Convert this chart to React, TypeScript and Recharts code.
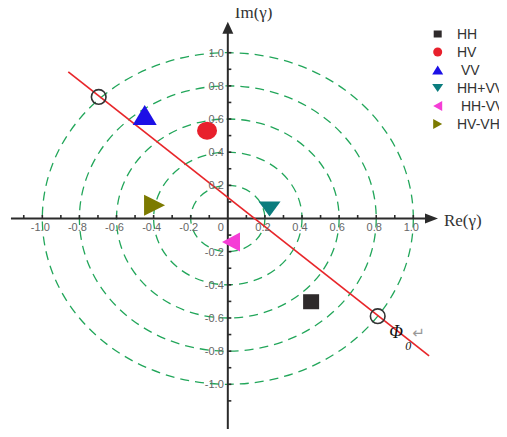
import React from 'react';
import {
  ScatterChart,
  Scatter,
  XAxis,
  YAxis,
  ReferenceLine,
  ReferenceArea,
  ReferenceDot,
  Legend,
} from 'recharts';

// ---------- data ----------
const seriesNames = ['HH', 'HV', 'VV', 'HH+VV', 'HH-VV', 'HV-VH'];
const legendLabels = ['HH', 'HV', ' VV', 'HH+VV', ' HH-VV', 'HV-VH'];
const reValues = [0.449, -0.112, -0.448, 0.225, 0.017, -0.395];
const imValues = [-0.502, 0.53, 0.624, 0.057, -0.142, 0.08];

const circleRadii = [0.2, 0.4, 0.6, 0.8, 1.0];

const crossRe = [-0.696, 0.808];
const crossIm = [0.733, -0.589];

const lineRe = [-0.86, 1.085];
const lineIm = [0.884, -0.829];

const xMinorTicks = [-1.1, -1.0, -0.9, -0.8, -0.7, -0.6, -0.5, -0.4, -0.3, -0.2, -0.1, 0.1, 0.2, 0.3, 0.4, 0.5, 0.6, 0.7, 0.8, 0.9, 1.0];
const xMajorTicks = [-1.0, -0.8, -0.6, -0.4, -0.2, 0, 0.2, 0.4, 0.6, 0.8, 1.0];
const xTickLabels = ['-1.0', '-0.8', '-0.6', '-0.4', '-0.2', '0', '0.2', '0.4', '0.6', '0.8', '1.0'];

const yMinorTicks = [-1.1, -1.0, -0.9, -0.8, -0.7, -0.6, -0.5, -0.4, -0.3, -0.2, -0.1, 0.1, 0.2, 0.3, 0.4, 0.5, 0.6, 0.7, 0.8, 0.9, 1.0];
const yMajorTicks = [1.0, 0.8, 0.6, 0.4, 0.2, -0.2, -0.4, -0.6, -0.8, -1.0];
const yTickLabels = ['1.0', '0.8', '0.6', '0.4', '0.2', '-0.2', '-0.4', '-0.6', '-0.8', '-1.0'];

const axisExtentRe = [-1.169, 1.133];
const axisExtentIm = [-1.306, 1.187];

const phiRe = [0.907];
const phiIm = [-0.686];

// ---------- styles ----------
const seriesColors = ['#2e2a2b', '#e8202c', '#1c10e6', '#0b7d7e', '#f53dd6', '#7c7a00'];
const markerKinds = ['square', 'circle', 'up', 'down', 'left', 'right'];
const markerSizes: [number, number][] = [
  [16, 15],
  [20, 18],
  [24, 20],
  [22, 15],
  [18, 19],
  [21, 21],
];
const legendSizes: [number, number][] = [
  [8, 7],
  [9, 9],
  [11, 9],
  [11, 8],
  [9, 10],
  [9, 10],
];

const X_DOMAIN: [number, number] = [-1.158, 1.478];
const Y_DOMAIN: [number, number] = [-1.2877, 1.2877];

const GREEN = '#22a65a';
const AXIS = '#2b2b2b';
const TICK_FONT = 'Liberation Sans, Arial, sans-serif';

function drawMarker(kind: string, cx: number, cy: number, color: string, w: number, h: number) {
  switch (kind) {
    case 'square':
      return <rect x={cx - w / 2} y={cy - h / 2} width={w} height={h} fill={color} />;
    case 'circle':
      return <ellipse cx={cx} cy={cy} rx={w / 2} ry={h / 2} fill={color} />;
    case 'up':
      return <polygon points={`${cx},${cy - h / 2} ${cx + w / 2},${cy + h / 2} ${cx - w / 2},${cy + h / 2}`} fill={color} />;
    case 'down':
      return <polygon points={`${cx - w / 2},${cy - h / 2} ${cx + w / 2},${cy - h / 2} ${cx},${cy + h / 2}`} fill={color} />;
    case 'left':
      return <polygon points={`${cx - w / 2},${cy} ${cx + w / 2},${cy - h / 2} ${cx + w / 2},${cy + h / 2}`} fill={color} />;
    case 'right':
    default:
      return <polygon points={`${cx + w / 2},${cy} ${cx - w / 2},${cy - h / 2} ${cx - w / 2},${cy + h / 2}`} fill={color} />;
  }
}

const seriesData = seriesNames.map((name, i) => ({ name, data: [{ x: reValues[i], y: imValues[i] }] }));
const crossData = crossRe.map((x, i) => ({ x, y: crossIm[i] }));
const xMinorData = xMinorTicks.map((x) => ({ x, y: 0 }));
const xMajorData = xMajorTicks.map((x, i) => ({ x, y: 0, label: xTickLabels[i] }));
const yMinorData = yMinorTicks.map((y) => ({ x: 0, y }));
const yMajorData = yMajorTicks.map((y, i) => ({ x: 0, y, label: yTickLabels[i] }));

const xAxisShape = (p: any) => {
  const { x1, y1, x2, y2 } = p;
  return (
    <g>
      <line x1={x1} y1={y1} x2={x2 - 12} y2={y2} stroke={AXIS} strokeWidth={2} />
      <polygon points={`${x2},${y2} ${x2 - 13},${y2 - 5} ${x2 - 13},${y2 + 5}`} fill={AXIS} />
      <text x={x2 + 6} y={y2 + 7} fontFamily="Liberation Serif, Times New Roman, serif" fontSize={17} fill="#333">
        Re(γ)
      </text>
    </g>
  );
};

const yAxisShape = (p: any) => {
  const { x1, y1, x2, y2 } = p;
  return (
    <g>
      <line x1={x1} y1={y1} x2={x2} y2={y2 + 10} stroke={AXIS} strokeWidth={2} />
      <polygon points={`${x2},${y2} ${x2 - 5.5},${y2 + 12} ${x2 + 5.5},${y2 + 12}`} fill={AXIS} />
      <text x={x2 + 7} y={y2 - 4} fontFamily="Liberation Serif, Times New Roman, serif" fontSize={17} fill="#333">
        Im(γ)
      </text>
    </g>
  );
};

const ellipseShape = (p: any) => {
  const w = Math.abs(p.width);
  const h = Math.abs(p.height);
  const left = Math.min(p.x, p.x + p.width);
  const top = Math.min(p.y, p.y + p.height);
  return (
    <ellipse
      cx={left + w / 2}
      cy={top + h / 2}
      rx={w / 2}
      ry={h / 2}
      fill="none"
      stroke={GREEN}
      strokeWidth={1.3}
      strokeDasharray="9 6"
    />
  );
};

const phiShape = (p: any) => {
  const { cx, cy } = p;
  return (
    <g>
      <text x={cx} y={cy + 5.7} textAnchor="middle" fontFamily="Liberation Serif, Times New Roman, serif" fontStyle="italic" fontSize={18} fill="#111">
        Φ
      </text>
      <text x={cx + 12.3} y={cy + 17.5} textAnchor="middle" fontFamily="Liberation Serif, Times New Roman, serif" fontStyle="italic" fontSize={12} fill="#111">
        0
      </text>
      <text x={cx + 22.5} y={cy + 5.5} textAnchor="middle" fontFamily="DejaVu Sans, sans-serif" fontSize={15} fill="#999">
        ↵
      </text>
    </g>
  );
};

const renderLegend = () => (
  <div
    style={{
      position: 'relative',
      width: 79,
      height: 120,
      overflow: 'hidden',
      fontFamily: 'Liberation Sans, Arial, sans-serif',
      fontSize: 14,
      color: '#333',
    }}
  >
    {legendLabels.map((label, i) => {
      const [w, h] = legendSizes[i];
      return (
        <div
          key={label}
          style={{
            position: 'absolute',
            left: 0,
            top: 8.3 + i * 17.95 - 9,
            height: 18,
            display: 'flex',
            alignItems: 'center',
            whiteSpace: 'pre',
          }}
        >
          <svg width={20} height={18} style={{ display: 'block' }}>
            {drawMarker(markerKinds[i], 9.7, 9, seriesColors[i], w, h)}
          </svg>
          <span style={{ marginLeft: 9, lineHeight: '18px' }}>{label}</span>
        </div>
      );
    })}
  </div>
);

export default function App() {
  return (
    <div style={{ width: 499, height: 429, marginTop: -8 }}>
      <ScatterChart width={499} height={437} margin={{ top: 5, right: 5, bottom: 5, left: 5 }}>
        <XAxis type="number" dataKey="x" domain={X_DOMAIN} allowDataOverflow hide />
        <YAxis type="number" dataKey="y" domain={Y_DOMAIN} allowDataOverflow hide />

        {circleRadii.map((r) => (
          <ReferenceArea key={`c${r}`} x1={-r} x2={r} y1={-r} y2={r} ifOverflow="visible" shape={ellipseShape} />
        ))}

        <ReferenceLine
          segment={[
            { x: axisExtentRe[0], y: 0 },
            { x: axisExtentRe[1], y: 0 },
          ]}
          ifOverflow="visible"
          shape={xAxisShape}
        />
        <ReferenceLine
          segment={[
            { x: 0, y: axisExtentIm[0] },
            { x: 0, y: axisExtentIm[1] },
          ]}
          ifOverflow="visible"
          shape={yAxisShape}
        />

        <ReferenceLine
          segment={[
            { x: lineRe[0], y: lineIm[0] },
            { x: lineRe[1], y: lineIm[1] },
          ]}
          ifOverflow="visible"
          stroke="#e8262a"
          strokeWidth={1.7}
        />

        <Scatter
          name="xMinor"
          data={xMinorData}
          isAnimationActive={false}
          legendType="none"
          shape={(p: any) => <line x1={p.cx} y1={p.cy} x2={p.cx} y2={p.cy - 3.5} stroke={AXIS} strokeWidth={1.6} />}
        />
        <Scatter
          name="xMajor"
          data={xMajorData}
          isAnimationActive={false}
          legendType="none"
          shape={(p: any) => (
            <text
              x={p.cx + (p.payload.x === 0 ? -7 : -2)}
              y={p.cy + 12.5}
              textAnchor="middle"
              fontFamily={TICK_FONT}
              fontSize={11}
              fill="#666"
            >
              {p.payload.label}
            </text>
          )}
        />
        <Scatter
          name="yMinor"
          data={yMinorData}
          isAnimationActive={false}
          legendType="none"
          shape={(p: any) => <line x1={p.cx} y1={p.cy} x2={p.cx + 3.5} y2={p.cy} stroke={AXIS} strokeWidth={1.6} />}
        />
        <Scatter
          name="yMajor"
          data={yMajorData}
          isAnimationActive={false}
          legendType="none"
          shape={(p: any) => (
            <text x={p.cx - 4} y={p.cy + 4} textAnchor="end" fontFamily={TICK_FONT} fontSize={11} fill="#666">
              {p.payload.label}
            </text>
          )}
        />

        {seriesData.map((s, i) => (
          <Scatter
            key={s.name}
            name={s.name}
            data={s.data}
            fill={seriesColors[i]}
            isAnimationActive={false}
            shape={(p: any) => drawMarker(markerKinds[i], p.cx, p.cy, seriesColors[i], markerSizes[i][0], markerSizes[i][1])}
          />
        ))}

        <Scatter
          name="crossings"
          data={crossData}
          isAnimationActive={false}
          legendType="none"
          shape={(p: any) => <circle cx={p.cx} cy={p.cy} r={7.3} fill="none" stroke="#333" strokeWidth={1.6} />}
        />

        <ReferenceDot x={phiRe[0]} y={phiIm[0]} r={0} ifOverflow="visible" shape={phiShape} />

        <Legend
          layout="vertical"
          align="center"
          verticalAlign="middle"
          content={renderLegend}
          wrapperStyle={{ left: 420, top: 26, width: 79, height: 120 }}
        />
      </ScatterChart>
    </div>
  );
}
